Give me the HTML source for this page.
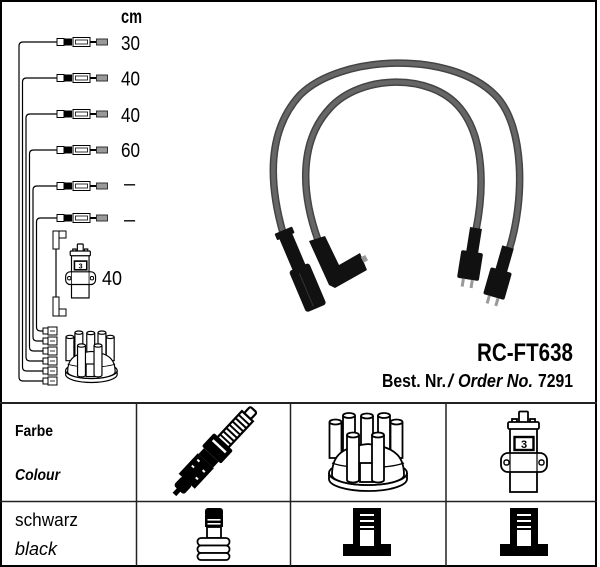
<!DOCTYPE html>
<html><head><meta charset="utf-8"><style>
html,body{margin:0;padding:0;background:#fff}
svg{display:block}
text{font-family:"Liberation Sans",Arial,sans-serif;fill:#000}
</style></head><body>
<svg width="600" height="567" viewBox="0 0 600 567" xmlns="http://www.w3.org/2000/svg">
<defs>
 <g id="conn">
  <rect x="57" y="-3.5" width="7" height="7" fill="#fff" stroke="#000" stroke-width="1"/>
  <rect x="64" y="-3.5" width="8" height="7" fill="#000"/>
  <rect x="73" y="-4.5" width="17" height="9" fill="#fff" stroke="#000" stroke-width="1"/>
  <rect x="75.5" y="-2" width="12" height="4" fill="none" stroke="#000" stroke-width="0.8"/>
  <rect x="90" y="-1" width="6" height="2" fill="#000"/>
  <rect x="96.5" y="-3" width="11" height="6" fill="#999" stroke="#333" stroke-width="1"/>
 </g>
 <g id="bconn">
  <rect x="43" y="-3" width="5" height="6" fill="#fff" stroke="#000" stroke-width="1"/>
  <rect x="48" y="-4" width="9" height="8" fill="#fff" stroke="#000" stroke-width="1"/>
  <line x1="50" y1="0" x2="55" y2="0" stroke="#000" stroke-width="0.8"/>
 </g>
 <g id="dist" stroke="#000" stroke-width="1.8">
  <ellipse cx="40" cy="66" rx="39" ry="12" fill="#fff"/>
  <rect x="1" y="60" width="78" height="6" fill="#fff" stroke="none"/>
  <line x1="1" y1="60" x2="1" y2="66"/>
  <line x1="79" y1="60" x2="79" y2="66"/>
  <ellipse cx="40" cy="60" rx="39" ry="12" fill="#fff"/>
  <!-- back towers -->
  <path d="M1.5,9 V45 H13.5 V9" fill="#fff"/><ellipse cx="7.5" cy="9" rx="6" ry="2.5" fill="#fff"/>
  <path d="M15,2.5 V40 H27 V2.5" fill="#fff"/><ellipse cx="21" cy="2.5" rx="6" ry="2.5" fill="#fff"/>
  <path d="M33,3 V40 H45 V3" fill="#fff"/><ellipse cx="39" cy="3" rx="6" ry="2.5" fill="#fff"/>
  <path d="M50,2.5 V40 H62 V2.5" fill="#fff"/><ellipse cx="56" cy="2.5" rx="6" ry="2.5" fill="#fff"/>
  <path d="M62.5,9 V45 H74.5 V9" fill="#fff"/><ellipse cx="68.5" cy="9" rx="6" ry="2.5" fill="#fff"/>
  <!-- dome -->
  <path d="M4,62 C4,46 10,34 40,31 C70,34 76,46 76,62 A36,10 0 0 1 4,62 Z" fill="#fff"/>
  <path d="M4,50 C20,56 60,56 76,50" fill="none" stroke-width="1.4"/>
  <rect x="32" y="50" width="13" height="19" fill="#fff"/>
  <path d="M19,22 V67 A6,2.5 0 0 0 31,67 V22" fill="#fff"/><ellipse cx="25" cy="22" rx="6" ry="2.5" fill="#fff"/>
  <path d="M44,22 V67 A6,2.5 0 0 0 56,67 V22" fill="#fff"/><ellipse cx="50" cy="22" rx="6" ry="2.5" fill="#fff"/>
 </g>
 <g id="coil" stroke="#000" stroke-width="1.8">
  <rect x="19" y="1.5" width="9" height="11" rx="1" fill="#fff"/>
  <rect x="10" y="18" width="27" height="64" fill="#fff"/>
  <rect x="12" y="9" width="5" height="4" fill="#fff"/>
  <rect x="30" y="9" width="5" height="4" fill="#fff"/>
  <rect x="8" y="12" width="31" height="7" rx="1.5" fill="#fff"/>
  <rect x="14.5" y="27" width="19" height="13" fill="#fff" stroke-width="2.4"/>
  <text x="24" y="38" font-size="11" font-weight="bold" text-anchor="middle" stroke="none">3</text>
  <rect x="1" y="43" width="46" height="19" rx="7" fill="#fff"/>
  <line x1="10" y1="43" x2="10" y2="62" stroke-width="1.2"/>
  <line x1="37" y1="43" x2="37" y2="62" stroke-width="1.2"/>
  <rect x="4" y="50" width="5" height="5" rx="2" fill="#fff" stroke-width="1.4"/>
  <rect x="39" y="50" width="5" height="5" rx="2" fill="#fff" stroke-width="1.4"/>
 </g>
 <g id="ibeam">
  <rect x="10" y="0" width="28" height="38" fill="#000"/>
  <rect x="0" y="36" width="48" height="12" fill="#000"/>
  <rect x="17" y="6" width="14" height="2" fill="#fff"/>
  <rect x="17" y="12" width="14" height="2" fill="#fff"/>
  <rect x="17" y="18" width="14" height="2" fill="#fff"/>
  <rect x="17" y="22" width="14" height="16" fill="#fff"/>
 </g>
 <g id="rboot">
  <rect x="-6" y="0" width="12" height="26" fill="#111"/>
  <rect x="-11" y="24" width="22" height="28" rx="2" fill="#111"/>
  <rect x="-6" y="52" width="3" height="8" fill="#999"/>
  <rect x="3" y="52" width="3" height="8" fill="#999"/>
 </g>
</defs>

<rect x="0" y="0" width="600" height="567" fill="#fff"/>
<rect x="1" y="1" width="595" height="565" fill="none" stroke="#000" stroke-width="2"/>

<!-- left schematic wires -->
<g fill="none" stroke="#000" stroke-width="1.2">
 <path d="M57,42 H23 Q19,42 19,46 V377 Q19,381 23,381 H43"/>
 <path d="M57,78 H26.5 Q22.5,78 22.5,82 V367 Q22.5,371 26.5,371 H43"/>
 <path d="M57,114 H30 Q26,114 26,118 V357 Q26,361 30,361 H43"/>
 <path d="M57,150 H33.5 Q29.5,150 29.5,154 V347 Q29.5,351 33.5,351 H43"/>
 <path d="M57,186 H37 Q33,186 33,190 V337 Q33,341 37,341 H43"/>
 <path d="M57,218 H40.5 Q36.5,218 36.5,222 V327 Q36.5,331 40.5,331 H43"/>
 <line x1="56" y1="249" x2="56" y2="297"/>
</g>
<use href="#conn" y="42"/>
<use href="#conn" y="78"/>
<use href="#conn" y="114"/>
<use href="#conn" y="150"/>
<use href="#conn" y="186"/>
<use href="#conn" y="218"/>
<use href="#bconn" y="331"/>
<use href="#bconn" y="341"/>
<use href="#bconn" y="351"/>
<use href="#bconn" y="361"/>
<use href="#bconn" y="371"/>
<use href="#bconn" y="381"/>

<!-- coil wire boots -->
<g fill="#fff" stroke="#000" stroke-width="1">
 <rect x="53" y="231" width="6" height="18"/>
 <rect x="59" y="231" width="7" height="7"/>
 <rect x="53" y="297" width="6" height="19"/>
 <rect x="59" y="309" width="7" height="7"/>
</g>

<use href="#coil" transform="translate(65,243) scale(0.65,0.67)"/>
<use href="#dist" transform="translate(65,331) scale(0.66)"/>

<text x="121" y="23" font-size="19" font-weight="bold" textLength="21" lengthAdjust="spacingAndGlyphs">cm</text>
<text x="121" y="50" font-size="20" textLength="19" lengthAdjust="spacingAndGlyphs">30</text>
<text x="121" y="85.5" font-size="20" textLength="19" lengthAdjust="spacingAndGlyphs">40</text>
<text x="121" y="122" font-size="20" textLength="19" lengthAdjust="spacingAndGlyphs">40</text>
<text x="121" y="157" font-size="20" textLength="19" lengthAdjust="spacingAndGlyphs">60</text>
<text x="124" y="190" font-size="20">–</text>
<text x="124" y="226" font-size="20">–</text>
<text x="102" y="285" font-size="20" textLength="20" lengthAdjust="spacingAndGlyphs">40</text>

<!-- cables -->
<g fill="none" stroke-linecap="butt">
 <path d="M283,233 C268,180 268,130 300,95 C340,55 450,50 495,95 C525,125 525,200 509,250" stroke="#444" stroke-width="7.5"/>
 <path d="M283,233 C268,180 268,130 300,95 C340,55 450,50 495,95 C525,125 525,200 509,250" stroke="#666" stroke-width="4.5"/>
 <path d="M318,240 C300,190 300,140 330,108 C360,75 430,72 460,108 C485,138 484,190 476,230" stroke="#444" stroke-width="7.5"/>
 <path d="M318,240 C300,190 300,140 330,108 C360,75 430,72 460,108 C485,138 484,190 476,230" stroke="#666" stroke-width="4.5"/>
</g>
<!-- left straight boot -->
<g transform="translate(284,232) rotate(-23)" fill="#111">
 <rect x="-9.5" y="-2" width="19" height="7" rx="1"/>
 <rect x="-7" y="4" width="14" height="36"/>
 <rect x="-11" y="38" width="22" height="45" rx="3"/>
 <line x1="-2" y1="44" x2="-2" y2="80" stroke="#333" stroke-width="1"/>
</g>
<!-- elbow boot -->
<polygon points="309,241 325,236 339,265 360,253 367,270 335,288 329,285" fill="#111"/>
<rect x="362" y="256" width="5" height="6" fill="#999" transform="rotate(-28 364 259)"/>
<!-- right boots -->
<use href="#rboot" transform="translate(476,228) rotate(9)"/>
<use href="#rboot" transform="translate(508,247) rotate(16)"/>

<!-- title -->
<text x="477" y="361" font-size="25" font-weight="bold" textLength="96" lengthAdjust="spacingAndGlyphs">RC-FT638</text>
<text x="382" y="387" font-size="18" font-weight="bold" textLength="64" lengthAdjust="spacingAndGlyphs">Best. Nr.</text>
<text x="448" y="387" font-size="18" font-weight="bold" font-style="italic">/</text>
<text x="458" y="387" font-size="18" font-weight="bold" font-style="italic" textLength="75" lengthAdjust="spacingAndGlyphs">Order No.</text>
<text x="538" y="387" font-size="18" font-weight="bold" textLength="35" lengthAdjust="spacingAndGlyphs">7291</text>

<!-- table -->
<g stroke="#222">
 <line x1="0" y1="403" x2="597" y2="403" stroke-width="2"/>
 <line x1="0" y1="501.5" x2="597" y2="501.5" stroke-width="1.5"/>
 <line x1="136.5" y1="403" x2="136.5" y2="566" stroke-width="1.5"/>
 <line x1="290.5" y1="403" x2="290.5" y2="566" stroke-width="1.5"/>
 <line x1="446" y1="403" x2="446" y2="566" stroke-width="1.5"/>
</g>
<text x="15" y="436" font-size="16" font-weight="bold" textLength="38" lengthAdjust="spacingAndGlyphs">Farbe</text>
<text x="15" y="480" font-size="16" font-weight="bold" font-style="italic" textLength="45" lengthAdjust="spacingAndGlyphs">Colour</text>
<text x="15" y="526" font-size="18" textLength="63" lengthAdjust="spacingAndGlyphs">schwarz</text>
<text x="15" y="555" font-size="18" font-style="italic" textLength="42" lengthAdjust="spacingAndGlyphs">black</text>

<!-- spark plug -->
<g transform="translate(214,452) rotate(43)">
 <rect x="-4.5" y="-58" width="9" height="9" rx="2" fill="#fff" stroke="#000" stroke-width="2.2"/>
 <rect x="-7.5" y="-49" width="15" height="36" fill="#fff" stroke="#000" stroke-width="2.2"/>
 <rect x="-7.5" y="-45" width="15" height="2" fill="#000"/>
 <rect x="-7.5" y="-40.5" width="15" height="2" fill="#000"/>
 <rect x="-7.5" y="-36" width="15" height="2" fill="#000"/>
 <rect x="-7.5" y="-31.5" width="15" height="2" fill="#000"/>
 <rect x="-7.5" y="-27" width="15" height="2" fill="#000"/>
 <rect x="-7.5" y="-22.5" width="15" height="2" fill="#000"/>
 <rect x="-7.5" y="-18" width="15" height="2" fill="#000"/>
 <rect x="-13" y="-14" width="26" height="18" rx="2" fill="#000"/>
 <rect x="-9" y="-9" width="18" height="2.5" fill="#fff"/>
 <rect x="-10" y="4" width="20" height="8" fill="#000"/>
 <rect x="-11" y="12" width="22" height="28" fill="#000"/>
 <rect x="-7" y="16" width="3" height="2" fill="#fff"/>
 <rect x="-7" y="24" width="3" height="2" fill="#fff"/>
 <rect x="4" y="20" width="3" height="2" fill="#fff"/>
 <rect x="4" y="30" width="3" height="2" fill="#fff"/>
 <rect x="-7" y="39" width="14" height="13" rx="3" fill="#000"/>
 <rect x="-2.5" y="51" width="5" height="7" fill="#000"/>
</g>

<use href="#dist" transform="translate(328,413)"/>
<use href="#coil" transform="translate(500,410)"/>

<!-- row 2 icons -->
<g>
 <rect x="205" y="508" width="18" height="9" rx="3" fill="#000"/>
 <rect x="205" y="515" width="18" height="12" fill="#000"/>
 <rect x="207.5" y="519" width="13" height="1.6" fill="#fff"/>
 <rect x="207.5" y="523" width="13" height="1.6" fill="#fff"/>
 <rect x="207" y="527" width="14" height="11" fill="#fff" stroke="#000" stroke-width="1.8"/>
 <rect x="197.5" y="538" width="32" height="7.5" rx="3.5" fill="#fff" stroke="#000" stroke-width="1.8"/>
 <rect x="197.5" y="545.5" width="32" height="7.5" rx="3.5" fill="#fff" stroke="#000" stroke-width="1.8"/>
 <rect x="197.5" y="553" width="32" height="7" rx="3.5" fill="#fff" stroke="#000" stroke-width="1.8"/>
</g>
<use href="#ibeam" transform="translate(343,508)"/>
<use href="#ibeam" transform="translate(500,508)"/>
</svg>
</body></html>
